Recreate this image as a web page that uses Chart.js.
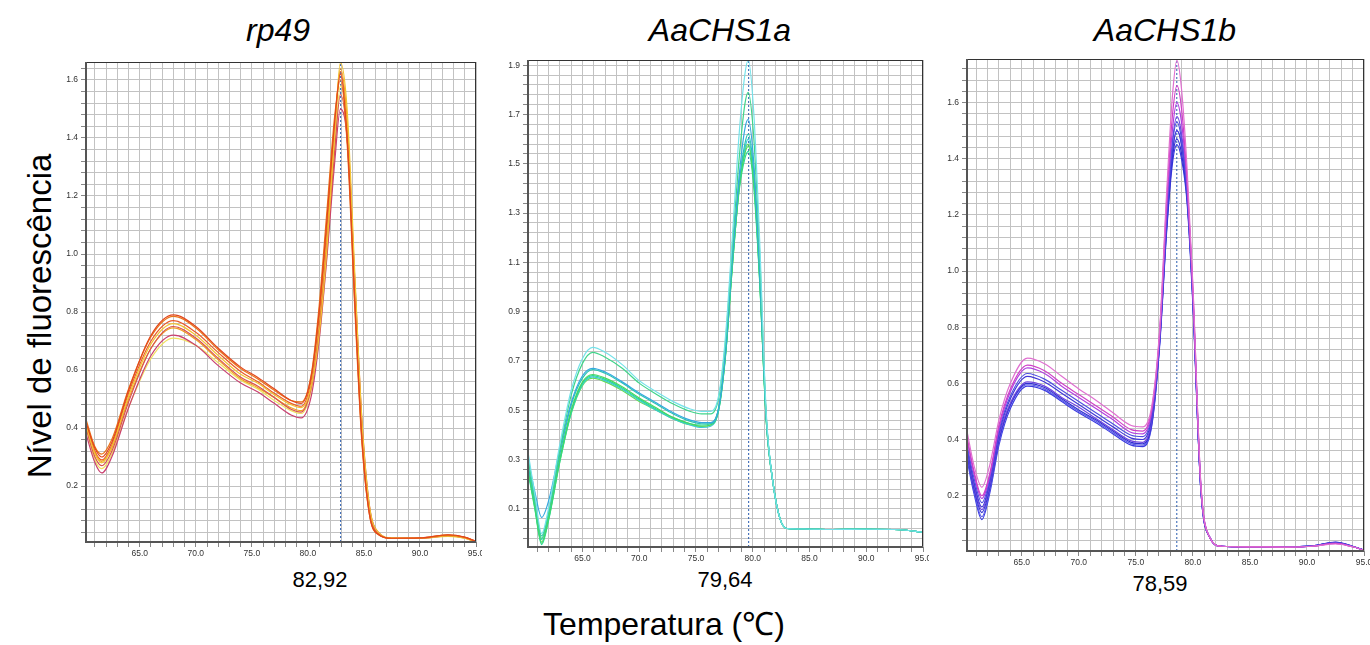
<!DOCTYPE html>
<html>
<head>
<meta charset="utf-8">
<script src="https://cdn.jsdelivr.net/npm/chart.js@4.4.1/dist/chart.umd.min.js"></script>
<style>
body{margin:0;background:#fff;width:1370px;height:645px;position:relative;overflow:hidden;
     font-family:"Liberation Sans",Arial,Helvetica,sans-serif;color:#000;}
.box{position:absolute}
.title{position:absolute;top:14px;font-size:32px;line-height:32px;font-style:italic;transform:translateX(-50%);white-space:nowrap}
.tm{position:absolute;font-size:22px;line-height:22px;transform:translate(-50%,-50%);white-space:nowrap}
.ylab{position:absolute;left:39px;top:316px;font-size:33px;line-height:33px;white-space:nowrap;
      transform:translate(-50%,-50%) rotate(-90deg)}
.xlab{position:absolute;left:664px;top:608px;font-size:32px;line-height:32px;white-space:nowrap;transform:translateX(-50%)}
</style>
</head>
<body>
<div class="title" style="left:278px">rp49</div>
<div class="title" style="left:720px">AaCHS1a</div>
<div class="title" style="left:1165px">AaCHS1b</div>
<div class="ylab">Nível de fluorescência</div>
<div class="xlab">Temperatura (℃)</div>
<div class="tm" style="left:320px;top:580px">82,92</div>
<div class="tm" style="left:725px;top:580px">79,64</div>
<div class="tm" style="left:1160px;top:584px">78,59</div>

<div class="box" style="left:56px;top:58px;width:426px;height:504px"><canvas id="c1"></canvas></div>
<div class="box" style="left:498px;top:56px;width:431px;height:511px"><canvas id="c2"></canvas></div>
<div class="box" style="left:937px;top:55px;width:433px;height:516px"><canvas id="c3"></canvas></div>

<script>
// ---------------------------- data
var xLabels = [65, 70, 75, 80, 85, 90, 95];

// rp49
var rpTm = 82.92;
var rpYLabels = [0.2, 0.4, 0.6, 0.8, 1.0, 1.2, 1.4, 1.6];
var rpTemps = [60.2, 61.0, 61.6, 62.5, 64, 66, 68, 70, 72, 74, 75.5, 77, 78.5, 79.4, 80.3, 81.0, 81.7, 82.4, 82.9, 83.5, 84.2, 84.8, 85.5, 86.3, 87.5, 90, 92.5, 94, 95];
var rpColors = ['#e2461c', '#e9761a', '#f2c233', '#d9534f', '#f0a020', '#c94070', '#f0e060', '#ea5a2a'];
var rpValues = [
  [0.42,0.33,0.30,0.35,0.53,0.72,0.79,0.75,0.675,0.61,0.575,0.535,0.495,0.485,0.58,0.80,1.12,1.46,1.62,1.40,0.82,0.37,0.10,0.033,0.02,0.021,0.032,0.024,0.009],
  [0.43,0.335,0.31,0.36,0.535,0.715,0.785,0.745,0.67,0.605,0.57,0.53,0.495,0.49,0.585,0.82,1.15,1.48,1.60,1.38,0.80,0.36,0.10,0.032,0.02,0.02,0.03,0.023,0.008],
  [0.41,0.31,0.28,0.335,0.51,0.69,0.76,0.72,0.65,0.585,0.555,0.515,0.48,0.47,0.545,0.72,1.02,1.42,1.66,1.50,0.92,0.44,0.13,0.04,0.021,0.02,0.027,0.02,0.007],
  [0.40,0.30,0.27,0.32,0.49,0.675,0.75,0.71,0.64,0.575,0.545,0.505,0.465,0.455,0.54,0.73,1.02,1.36,1.55,1.40,0.86,0.41,0.115,0.036,0.02,0.02,0.03,0.022,0.008],
  [0.41,0.315,0.285,0.33,0.50,0.675,0.745,0.705,0.635,0.57,0.54,0.505,0.47,0.46,0.55,0.75,1.06,1.43,1.64,1.46,0.88,0.42,0.12,0.037,0.02,0.021,0.031,0.023,0.008],
  [0.38,0.28,0.245,0.30,0.47,0.65,0.72,0.685,0.615,0.555,0.525,0.485,0.445,0.435,0.51,0.70,0.99,1.32,1.50,1.40,0.90,0.44,0.13,0.04,0.02,0.02,0.028,0.021,0.008],
  [0.40,0.29,0.26,0.31,0.47,0.64,0.71,0.685,0.625,0.565,0.535,0.495,0.46,0.45,0.53,0.71,1.00,1.37,1.58,1.45,0.90,0.43,0.125,0.038,0.02,0.02,0.026,0.02,0.007],
  [0.415,0.32,0.29,0.34,0.52,0.70,0.77,0.73,0.66,0.595,0.56,0.52,0.485,0.475,0.565,0.78,1.09,1.45,1.63,1.43,0.84,0.38,0.105,0.034,0.02,0.021,0.031,0.023,0.008]
];

// AaCHS1a
var aTm = 79.64;
var aYLabels = [0.1, 0.3, 0.5, 0.7, 0.9, 1.1, 1.3, 1.5, 1.7, 1.9];
var aTemps = [60.2, 60.8, 61.4, 62.0, 63.0, 64.0, 65.0, 65.9, 67, 68.5, 70, 71.5, 73, 74.5, 75.5, 76.3, 77.0, 77.6, 78.2, 78.8, 79.3, 79.6, 80.1, 80.6, 81.2, 81.8, 82.4, 83.0, 84.5, 87, 90, 93, 95];
var aColors = ['#74e2ea', '#3fd58a', '#35a8e0', '#2cc6b0', '#48d860', '#28d89a', '#3cc8d8', '#66dd55'];
var aValues = [
  [0.33,0.16,0.00,0.10,0.36,0.58,0.71,0.755,0.735,0.685,0.62,0.575,0.535,0.505,0.495,0.495,0.56,0.80,1.20,1.62,1.86,1.92,1.70,1.20,0.48,0.20,0.06,0.02,0.018,0.016,0.017,0.015,0.005],
  [0.31,0.14,-0.02,0.08,0.34,0.56,0.69,0.735,0.715,0.67,0.61,0.565,0.525,0.495,0.485,0.485,0.55,0.78,1.16,1.52,1.74,1.79,1.60,1.15,0.47,0.20,0.06,0.02,0.018,0.016,0.017,0.015,0.005],
  [0.30,0.17,0.065,0.13,0.34,0.53,0.64,0.67,0.655,0.615,0.57,0.53,0.49,0.46,0.45,0.45,0.51,0.74,1.12,1.45,1.64,1.68,1.50,1.08,0.46,0.20,0.06,0.02,0.018,0.016,0.017,0.015,0.005],
  [0.28,0.13,-0.01,0.08,0.32,0.52,0.63,0.665,0.65,0.61,0.565,0.525,0.485,0.455,0.445,0.445,0.505,0.73,1.10,1.42,1.58,1.62,1.46,1.06,0.46,0.20,0.06,0.02,0.018,0.016,0.017,0.015,0.005],
  [0.26,0.11,-0.035,0.06,0.30,0.50,0.615,0.645,0.63,0.595,0.55,0.51,0.47,0.445,0.435,0.44,0.50,0.72,1.08,1.40,1.54,1.57,1.42,1.04,0.45,0.20,0.06,0.02,0.018,0.016,0.017,0.015,0.005],
  [0.25,0.10,-0.045,0.05,0.29,0.49,0.61,0.64,0.625,0.59,0.545,0.505,0.47,0.445,0.44,0.445,0.51,0.73,1.09,1.39,1.52,1.55,1.40,1.03,0.45,0.20,0.06,0.02,0.018,0.016,0.017,0.015,0.005],
  [0.27,0.12,-0.025,0.07,0.30,0.49,0.605,0.635,0.62,0.585,0.54,0.50,0.465,0.44,0.43,0.435,0.50,0.72,1.09,1.41,1.56,1.60,1.44,1.05,0.46,0.20,0.06,0.02,0.018,0.016,0.017,0.015,0.005],
  [0.26,0.105,-0.04,0.055,0.29,0.485,0.60,0.63,0.615,0.58,0.535,0.50,0.465,0.44,0.435,0.44,0.505,0.725,1.08,1.40,1.55,1.58,1.43,1.04,0.45,0.20,0.06,0.02,0.018,0.016,0.017,0.015,0.005]
];

// AaCHS1b
var bTm = 78.59;
var bYLabels = [0.2, 0.4, 0.6, 0.8, 1.0, 1.2, 1.4, 1.6];
var bTemps = [60.2, 60.8, 61.5, 62.2, 63.0, 64.0, 65.5, 67, 68.5, 70, 71.5, 73, 74.6, 75.6, 76.4, 77.1, 77.7, 78.2, 78.6, 79.0, 79.5, 80.0, 80.7, 81.5, 82.5, 85, 88, 90.5, 92.5, 94, 95];
var bColors = ['#e070d0', '#d040c8', '#b040e0', '#5050e0', '#4038d8', '#7048e0', '#3030d0', '#5a5ae8', '#3a3ae0'];
var bValues = [
  [0.43,0.31,0.23,0.31,0.47,0.60,0.69,0.67,0.625,0.58,0.54,0.495,0.45,0.445,0.52,0.80,1.28,1.62,1.75,1.65,1.36,0.95,0.24,0.05,0.02,0.018,0.017,0.02,0.028,0.018,0.006],
  [0.41,0.29,0.20,0.28,0.45,0.58,0.665,0.645,0.60,0.56,0.52,0.48,0.435,0.43,0.51,0.79,1.25,1.55,1.66,1.58,1.32,0.94,0.24,0.05,0.02,0.018,0.017,0.02,0.03,0.018,0.006],
  [0.40,0.28,0.19,0.27,0.44,0.57,0.655,0.635,0.59,0.55,0.51,0.47,0.425,0.42,0.50,0.78,1.22,1.50,1.60,1.53,1.30,0.92,0.23,0.05,0.02,0.018,0.017,0.02,0.03,0.018,0.006],
  [0.38,0.265,0.175,0.26,0.43,0.555,0.635,0.615,0.575,0.535,0.495,0.455,0.415,0.41,0.49,0.77,1.19,1.45,1.53,1.47,1.28,0.91,0.23,0.05,0.02,0.018,0.017,0.021,0.032,0.019,0.006],
  [0.37,0.25,0.16,0.25,0.42,0.545,0.625,0.605,0.565,0.525,0.485,0.445,0.405,0.40,0.48,0.76,1.17,1.42,1.50,1.45,1.26,0.90,0.22,0.05,0.02,0.018,0.017,0.021,0.033,0.019,0.006],
  [0.36,0.24,0.15,0.24,0.41,0.53,0.605,0.59,0.55,0.515,0.475,0.435,0.395,0.39,0.47,0.76,1.19,1.46,1.55,1.49,1.28,0.91,0.23,0.05,0.02,0.018,0.017,0.02,0.032,0.019,0.006],
  [0.35,0.23,0.14,0.23,0.40,0.525,0.60,0.585,0.545,0.505,0.47,0.43,0.39,0.385,0.46,0.75,1.15,1.40,1.47,1.42,1.25,0.89,0.22,0.05,0.02,0.018,0.017,0.021,0.034,0.02,0.006],
  [0.34,0.22,0.125,0.22,0.39,0.52,0.595,0.58,0.54,0.50,0.465,0.425,0.385,0.38,0.455,0.75,1.16,1.42,1.50,1.45,1.26,0.90,0.22,0.05,0.02,0.018,0.017,0.021,0.033,0.019,0.006],
  [0.33,0.21,0.115,0.21,0.38,0.51,0.59,0.575,0.535,0.495,0.46,0.42,0.38,0.375,0.45,0.74,1.14,1.38,1.45,1.40,1.24,0.88,0.22,0.05,0.02,0.018,0.017,0.021,0.035,0.02,0.006]
];

// ---------------------------- helpers
// frame round the plot area (top/right thin, left/bottom like the axis)
var framePlugin = {
  id: 'frame',
  afterDraw: function(chart){
    var a = chart.chartArea, ctx = chart.ctx;
    ctx.save();
    ctx.strokeStyle = '#333';
    ctx.lineWidth = 1;
    ctx.beginPath();
    ctx.moveTo(a.left, a.top + 0.5); ctx.lineTo(a.right, a.top + 0.5);
    ctx.moveTo(a.right - 0.5, a.top); ctx.lineTo(a.right - 0.5, a.bottom);
    ctx.stroke();
    ctx.strokeStyle = '#555';
    ctx.lineWidth = 2;
    ctx.beginPath();
    ctx.moveTo(a.left, a.top); ctx.lineTo(a.left, a.bottom);
    ctx.lineTo(a.right, a.bottom);
    ctx.stroke();
    ctx.restore();
  }
};

function near(a, b){ return Math.abs(a - b) < 1e-6; }

function makeChart(id, temps, values, colors, tm, yMin, yMax, yLabels){
  var datasets = [];
  for(var s = 0; s < values.length; s++){
    var pts = [];
    for(var i = 0; i < temps.length; i++){
      pts.push({x: temps[i], y: values[s][i]});
    }
    datasets.push({data: pts, borderColor: colors[s], borderWidth: 1.2,
                   pointRadius: 0, cubicInterpolationMode: 'monotone', fill: false});
  }
  // vertical Tm marker
  datasets.push({data: [{x: tm, y: yMin}, {x: tm, y: yMax}], borderColor: '#2a5db0',
                 borderWidth: 1, borderDash: [2, 2], pointRadius: 0, fill: false});

  var yStep = 0.04;
  var yBase = yLabels[0];
  var tickFont = {family: '"Liberation Sans", Arial, sans-serif', size: 8.5};

  return new Chart(document.getElementById(id), {
    type: 'line',
    data: {datasets: datasets},
    plugins: [framePlugin],
    options: {
      responsive: true, maintainAspectRatio: false, animation: false,
      layout: {padding: {top: 4, right: 6, left: 0, bottom: 0}},
      plugins: {legend: {display: false}, tooltip: {enabled: false}},
      scales: {
        x: {
          type: 'linear', min: 60.2, max: 95,
          border: {display: false},
          grid: {color: '#c2c2c2', lineWidth: 1, tickColor: '#888', tickLength: 5},
          ticks: {
            autoSkip: false, maxRotation: 0, padding: 2, color: '#333', font: tickFont,
            callback: function(v){
              for(var k = 0; k < xLabels.length; k++){ if(near(v, xLabels[k])) return v.toFixed(1); }
              return '';
            }
          },
          afterBuildTicks: function(sc){
            var t = [];
            for(var d = 61; d <= 95; d++){ t.push({value: d}); }
            sc.ticks = t;
          },
          afterFit: function(sc){ sc.height = 20; sc.paddingLeft = 0; sc.paddingRight = 0; }
        },
        y: {
          type: 'linear', min: yMin, max: yMax,
          border: {display: false},
          grid: {color: '#c2c2c2', lineWidth: 1, tickColor: '#888', tickLength: 5},
          ticks: {
            autoSkip: false, padding: 3, color: '#333', font: tickFont,
            callback: function(v){
              for(var k = 0; k < yLabels.length; k++){ if(near(v, yLabels[k])) return v.toFixed(1); }
              return '';
            }
          },
          afterBuildTicks: function(sc){
            var t = [];
            var start = yBase - Math.floor((yBase - yMin) / yStep) * yStep;
            for(var v = start; v <= yMax + 1e-9; v += yStep){
              t.push({value: Math.round(v * 1000) / 1000});
            }
            sc.ticks = t;
          },
          afterFit: function(sc){ sc.width = 30; sc.paddingTop = 0; sc.paddingBottom = 0; }
        }
      }
    }
  });
}

// ---------------------------- draw the three panels
makeChart('c1', rpTemps, rpValues, rpColors, rpTm, 0.007, 1.662, rpYLabels);
makeChart('c2', aTemps, aValues, aColors, aTm, -0.055, 1.921, aYLabels);
makeChart('c3', bTemps, bValues, bColors, bTm, 0.003, 1.755, bYLabels);
</script>
</body>
</html>
